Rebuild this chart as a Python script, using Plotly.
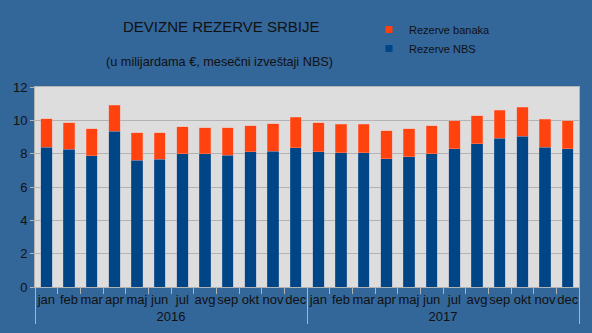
import plotly.graph_objects as go

months = ["jan", "feb", "mar", "apr", "maj", "jun", "jul", "avg", "sep", "okt", "nov", "dec"]
years = ["2016", "2017"]

nbs = [8.39, 8.27, 7.87, 9.35, 7.60, 7.66, 7.99, 7.99, 7.91, 8.11, 8.15, 8.35,
       8.11, 8.05, 8.05, 7.69, 7.81, 7.99, 8.29, 8.59, 8.93, 9.05, 8.39, 8.29]
total = [10.10, 9.87, 9.51, 10.92, 9.27, 9.27, 9.63, 9.57, 9.57, 9.69, 9.81, 10.20,
         9.87, 9.77, 9.77, 9.39, 9.51, 9.69, 9.99, 10.29, 10.62, 10.80, 10.08, 9.99]
banks = [round(t - n, 2) for t, n in zip(total, nbs)]

x_years = [y for y in years for _ in months]
x_months = months * len(years)

BG = "#336699"
TXT = "#111111"
GRID = "#b3b3b3"
FONT = "Liberation Sans"
C_NBS = "#004586"
C_BANK = "#ff420e"

fig = go.Figure()
fig.add_trace(go.Bar(x=[x_years, x_months], y=nbs, name="Rezerve NBS", showlegend=False,
                     marker=dict(color=C_NBS, line=dict(color="rgba(120,150,190,0.6)", width=0.5))))
fig.add_trace(go.Bar(x=[x_years, x_months], y=banks, name="Rezerve banaka", showlegend=False,
                     marker=dict(color=C_BANK, line=dict(color="rgba(255,160,140,0.8)", width=0.5))))
# legend entries with small square keys
fig.add_trace(go.Scatter(x=[None], y=[None], mode="markers", name="Rezerve banaka",
                         marker=dict(symbol="square", size=7, color=C_BANK)))
fig.add_trace(go.Scatter(x=[None], y=[None], mode="markers", name="Rezerve NBS",
                         marker=dict(symbol="square", size=7, color=C_NBS)))

fig.update_layout(
    width=592, height=333,
    barmode="stack", bargap=0.5,
    paper_bgcolor=BG, plot_bgcolor="#dddddd",
    margin=dict(l=34.5, r=12.5, t=86.7, b=45.7, autoexpand=False),
    font=dict(family=FONT, color=TXT, size=13),
    legend=dict(x=0.614, y=1.36, xanchor="left", yanchor="top", traceorder="normal",
                bgcolor="rgba(0,0,0,0)", font=dict(size=11, color=TXT),
                itemwidth=30, tracegroupgap=0),
    annotations=[
        dict(text="DEVIZNE REZERVE SRBIJE", x=0.342, y=1.303, xref="paper", yref="paper",
             showarrow=False, font=dict(size=15, color=TXT), xanchor="center", yanchor="middle"),
        dict(text="(u milijardama €, mesečni izveštaji NBS)", x=0.339, y=1.126, xref="paper", yref="paper",
             showarrow=False, font=dict(size=12.7, color=TXT), xanchor="center", yanchor="middle"),
    ],
)
fig.update_yaxes(range=[0, 12], dtick=2, showgrid=True, gridcolor=GRID, gridwidth=1,
                 showline=True, linecolor=GRID, mirror=True, ticks="outside", ticklen=4,
                 tickcolor=GRID, zeroline=False, tickfont=dict(size=13, color=TXT), automargin=False)
fig.update_xaxes(type="multicategory", showline=True, linecolor=GRID, mirror=True,
                 ticks="outside", ticklen=6, tickcolor=GRID, showdividers=True, tickangle=0,
                 dividercolor=GRID, dividerwidth=1, tickfont=dict(size=13, color=TXT), automargin=False)

fig.write_html("out.html")
